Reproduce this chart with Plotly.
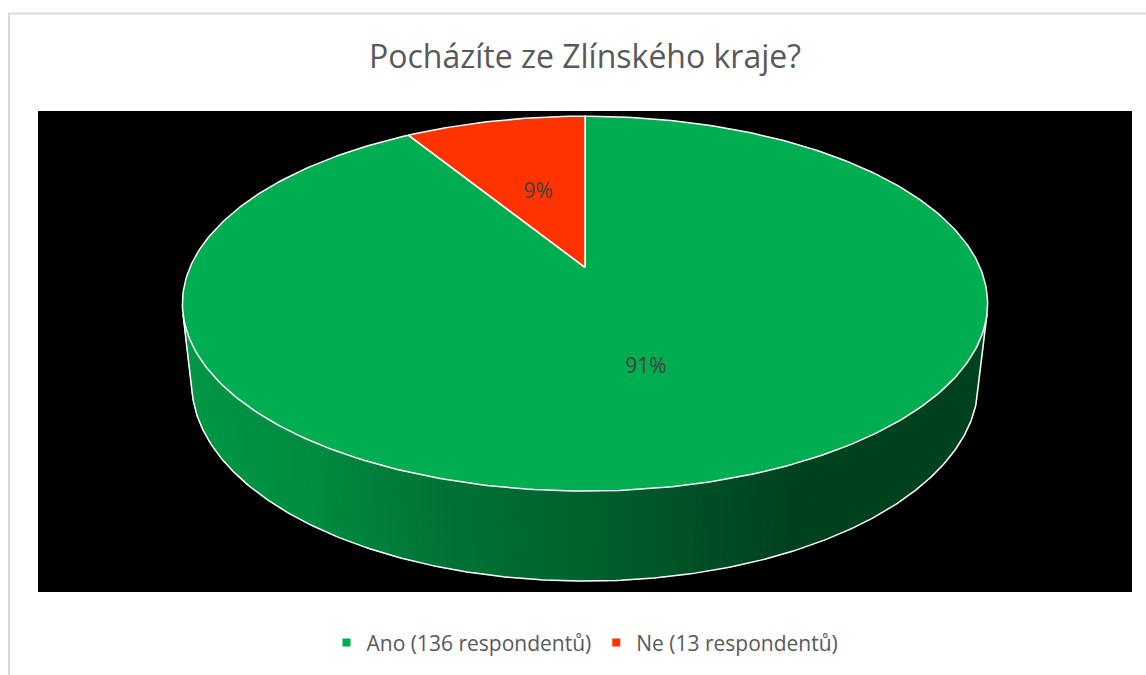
import numpy as np
import plotly.graph_objects as go

# ---------------- data ----------------
categories = ["Ano", "Ne"]
respondents = [136, 13]
legend_suffix = "respondentů"
title_text = "Pocházíte ze Zlínského kraje?"
slice_colors = ["#00AD50", "#FF3300"]
slice_rgb = [(0, 173, 80), (255, 51, 0)]

total = sum(respondents)
shares = [v / total for v in respondents]
pct_labels = [f"{round(s * 100)}%" for s in shares]
legend_names = [f"{c} ({v} {legend_suffix})" for c, v in zip(categories, respondents)]

# ---------------- 3D projection of the pie ----------------
F = 1813.0
ELEV = np.deg2rad(27.3)
DIST = 4.59
DEPTH = 0.228
cs, sn = np.cos(ELEV), np.sin(ELEV)


def project(theta, r=1.0, ylev=0.0):
    X = r * np.sin(theta)
    Z = r * np.cos(theta)
    depth = DIST + Z * cs - ylev * sn
    yc = ylev * cs + Z * sn
    return F * X / depth, F * yc / depth


cum = np.concatenate([[0.0], np.cumsum(shares)]) * 2 * np.pi

fig = go.Figure()

# --- side wall (front visible part) with horizontal shading ---
th_min = np.arccos(-1.0 / (DIST * cs))
th_max = 2 * np.pi - th_min
n_strips = 160
edges = np.linspace(th_min, th_max, n_strips + 1)
x_left, _ = project(th_max)
x_right, _ = project(th_min)


def shade(sx):
    t = (sx - x_left) / (x_right - x_left)
    return np.interp(t, [0.0, 0.15, 0.33, 0.52, 0.67, 0.76, 1.0],
                     [0.88, 0.81, 0.66, 0.55, 0.44, 0.38, 0.38])


for i in range(n_strips):
    t0, t1 = edges[i], edges[i + 1]
    tm = 0.5 * (t0 + t1)
    k = int(np.searchsorted(cum, tm, side="right") - 1)
    k = min(max(k, 0), len(categories) - 1)
    ts = np.linspace(t0, t1, 3)
    xt, yt = project(ts)
    xb, yb = project(ts[::-1], ylev=-DEPTH)
    xs = np.concatenate([xt, xb, xt[:1]])
    ys = np.concatenate([yt, yb, yt[:1]])
    sxm, _ = project(tm)
    f = shade(sxm)
    r, g, b = [int(round(c * f)) for c in slice_rgb[k]]
    col = f"rgb({r},{g},{b})"
    fig.add_trace(go.Scatter(x=xs, y=ys, mode="lines", fill="toself",
                             fillcolor=col, line=dict(color=col, width=1),
                             hoverinfo="skip", showlegend=False))

# white outline of the side wall (silhouettes + bottom rim)
tb = np.linspace(th_min, th_max, 300)
xb, yb = project(tb, ylev=-DEPTH)
xt0, yt0 = project(np.array([th_min]))
xt1, yt1 = project(np.array([th_max]))
fig.add_trace(go.Scatter(x=np.concatenate([xt0, xb, xt1]),
                         y=np.concatenate([yt0, yb, yt1]),
                         mode="lines", line=dict(color="white", width=1.5),
                         hoverinfo="skip", showlegend=False))

# --- top face slices ---
for i in range(len(categories)):
    a0, a1 = cum[i], cum[i + 1]
    n = max(int((a1 - a0) / (2 * np.pi) * 400), 20)
    ts = np.linspace(a0, a1, n)
    xa, ya = project(ts)
    xs = np.concatenate([[0.0], xa, [0.0]])
    ys = np.concatenate([[0.0], ya, [0.0]])
    fig.add_trace(go.Scatter(x=xs, y=ys, mode="lines", fill="toself",
                             fillcolor=slice_colors[i],
                             line=dict(color="white", width=1.5),
                             name=legend_names[i],
                             hovertemplate=f"{legend_names[i]}: {pct_labels[i]}<extra></extra>",
                             showlegend=False))

# --- percentage labels ---
mids = 0.5 * (cum[:-1] + cum[1:])
lx, ly = project(mids, r=0.5)
fig.add_trace(go.Scatter(x=lx + 2, y=ly - 5, mode="text", text=pct_labels,
                         textfont=dict(family="Open Sans", size=21, color="#404040"),
                         hoverinfo="skip", showlegend=False))

# --- legend entries ---
for i in range(len(categories)):
    fig.add_trace(go.Scatter(x=[None], y=[None], mode="markers",
                             marker=dict(symbol="square", size=8, color=slice_colors[i]),
                             name=legend_names[i], showlegend=True))

# ---------------- layout ----------------
W, H = 1146, 675
L, R, T, B = 38, 14, 111, 81
cx_px, cy_px = 585, 268
pw, ph = W - L - R, H - T - B

fig.update_layout(
    width=W, height=H,
    margin=dict(l=L, r=R, t=T, b=B, pad=0),
    paper_bgcolor="white",
    plot_bgcolor="black",
    title=dict(text=title_text, x=0.5, xref="paper", xanchor="center",
               y=1 - 57 / H, yref="container", yanchor="middle",
               font=dict(family="Open Sans", size=32, color="#595959")),
    xaxis=dict(range=[L - cx_px, W - R - cx_px], visible=False, fixedrange=True),
    yaxis=dict(range=[cy_px - (H - B), cy_px - T], visible=False, fixedrange=True),
    showlegend=True,
    legend=dict(orientation="h", x=0.5, xanchor="center",
                y=-(645 - (H - B)) / ph, yanchor="middle",
                font=dict(family="Open Sans", size=21, color="#595959"),
                itemwidth=30,
                bgcolor="rgba(0,0,0,0)", itemclick=False, itemdoubleclick=False),
    shapes=[dict(type="rect", xref="paper", yref="paper",
                 x0=(9 - L) / pw, x1=(W + 5 - L) / pw,
                 y0=-(H + 5 - (H - B)) / ph, y1=1 + (T - 13) / ph,
                 line=dict(color="#D9D9D9", width=2), fillcolor="rgba(0,0,0,0)",
                 layer="below")],
)

fig.write_html("out.html", config={"displayModeBar": False},
               post_script="document.body.style.margin='0px';document.body.style.overflow='hidden';")
